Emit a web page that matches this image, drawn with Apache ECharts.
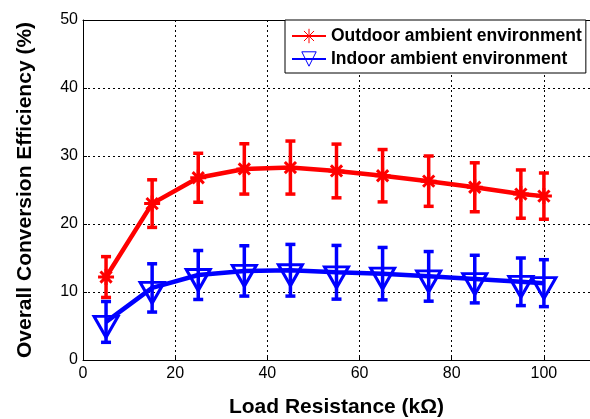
<!DOCTYPE html>
<html>
<head>
<meta charset="utf-8">
<script src="https://cdn.jsdelivr.net/npm/echarts@6/dist/echarts.min.js"></script>
<style>
  html, body { margin: 0; padding: 0; background: #fff; }
  #chart { width: 590px; height: 419px; }
</style>
</head>
<body>
<div id="chart"></div>
<script>
// Load resistance (kΩ)
const loadResistance = [5, 15, 25, 35, 45, 55, 65, 75, 85, 95, 100];
// Mean overall conversion efficiency (%) and its ± spread
const outdoorMean = [12.2, 23.0, 26.8, 28.1, 28.3, 27.8, 27.1, 26.3, 25.4, 24.4, 24.1];
const outdoorErr  = [3.0, 3.5, 3.6, 3.7, 3.9, 3.95, 3.85, 3.7, 3.6, 3.55, 3.4];
const indoorMean  = [5.6, 10.6, 12.5, 13.1, 13.2, 12.9, 12.7, 12.3, 11.9, 11.5, 11.3];
const indoorErr   = [3.0, 3.55, 3.6, 3.7, 3.8, 3.95, 3.85, 3.65, 3.5, 3.5, 3.45];
const xTicks = [0, 20, 40, 60, 80, 100];
const yTicks = [0, 10, 20, 30, 40, 50];

const RED = '#ff0000';
const BLUE = '#0000ff';
const FONT = 'Liberation Sans, Arial, sans-serif';
const asterisk = 'path://M0,-10L0,10M-10,0L10,0M-7,-7L7,7M-7,7L7,-7';

function pairs(mean) {
  return loadResistance.map((x, i) => [x, mean[i]]);
}
function errRows(mean, err) {
  return loadResistance.map((x, i) => [x, mean[i] - err[i], mean[i] + err[i]]);
}
function errorBars(color) {
  return function (params, api) {
    const x = api.value(0);
    const lo = api.coord([x, api.value(1)]);
    const hi = api.coord([x, api.value(2)]);
    const half = 5;
    const style = { stroke: color, lineWidth: 3.5, fill: null };
    return {
      type: 'group',
      children: [
        { type: 'line', shape: { x1: lo[0], y1: lo[1], x2: hi[0], y2: hi[1] }, style },
        { type: 'line', shape: { x1: lo[0] - half, y1: lo[1], x2: lo[0] + half, y2: lo[1] }, style },
        { type: 'line', shape: { x1: hi[0] - half, y1: hi[1], x2: hi[0] + half, y2: hi[1] }, style }
      ]
    };
  };
}

const grid = { left: 83, right: 0, top: 20, bottom: 59, containLabel: false, outerBoundsMode: 'none' };
const dotted = { color: '#000', width: 1, type: [2, 3] };

const chart = echarts.init(document.getElementById('chart'), null, { renderer: 'canvas' });
chart.setOption({
  animation: false,
  backgroundColor: '#fff',
  grid,
  legend: {
    left: 285, top: 20,
    orient: 'vertical',
    backgroundColor: '#fff',
    borderColor: '#000', borderWidth: 1, borderRadius: 0,
    padding: [7, 4, 5, 6],
    itemGap: 5,
    itemWidth: 34, itemHeight: 18,
    textStyle: { fontFamily: FONT, fontWeight: 'bold', fontSize: 17.5, color: '#000' },
    data: [
      { name: 'Outdoor ambient environment', itemStyle: { borderWidth: 1 } },
      { name: 'Indoor ambient environment', itemStyle: { borderWidth: 1 } }
    ]
  },
  xAxis: [{
    type: 'value', min: 0, max: 110, interval: 20,
    name: 'Load Resistance (kΩ)', nameLocation: 'middle', nameGap: 37,
    nameTextStyle: { fontFamily: FONT, fontWeight: 'bold', fontSize: 21, color: '#000' },
    axisLine: { show: true, lineStyle: { color: '#000', width: 1 } },
    axisTick: { show: true, inside: true, length: 4, lineStyle: { color: '#000' } },
    axisLabel: {
      fontFamily: FONT, fontSize: 16, color: '#000', margin: 6, showMaxLabel: false,
      formatter: v => xTicks.includes(v) ? String(v) : ''
    },
    splitLine: { show: true, lineStyle: dotted }
  }, {
    type: 'value', min: 0, max: 110, position: 'top',
    axisLine: { show: true, lineStyle: { color: '#000', width: 1 } },
    axisTick: { show: false }, axisLabel: { show: false }, splitLine: { show: false }
  }],
  yAxis: {
    type: 'value', min: 0, max: 50, interval: 10,
    name: 'Overall Conversion Efficiency (%)', nameLocation: 'middle', nameGap: 47, nameRotate: 90,
    nameTextStyle: { fontFamily: FONT, fontWeight: 'bold', fontSize: 21, color: '#000' },
    axisLine: { show: true, lineStyle: { color: '#000', width: 1 } },
    axisTick: { show: true, inside: true, length: 4, lineStyle: { color: '#000' } },
    axisLabel: {
      fontFamily: FONT, fontSize: 16, color: '#000', margin: 5,
      formatter: v => yTicks.includes(v) ? String(v) : ''
    },
    splitLine: { show: true, lineStyle: dotted }
  },
  series: [
    {
      type: 'custom', name: 'outdoorErr', renderItem: errorBars(RED),
      data: errRows(outdoorMean, outdoorErr), encode: { x: 0, y: [1, 2] }, z: 2
    },
    {
      type: 'custom', name: 'indoorErr', renderItem: errorBars(BLUE),
      data: errRows(indoorMean, indoorErr), encode: { x: 0, y: [1, 2] }, z: 2
    },
    {
      type: 'line', name: 'Outdoor ambient environment',
      data: pairs(outdoorMean),
      symbol: asterisk, symbolSize: 16,
      lineStyle: { color: RED, width: 4.5 },
      itemStyle: { color: RED, borderColor: RED, borderWidth: 3 },
      z: 3
    },
    {
      type: 'line', name: 'Indoor ambient environment',
      data: pairs(indoorMean),
      symbol: 'triangle', symbolRotate: 180, symbolSize: [24, 21], symbolOffset: [0, 5],
      lineStyle: { color: BLUE, width: 4.5 },
      itemStyle: { color: 'rgba(0,0,0,0)', borderColor: BLUE, borderWidth: 3 },
      z: 3
    }
  ]
});
</script>
</body>
</html>
